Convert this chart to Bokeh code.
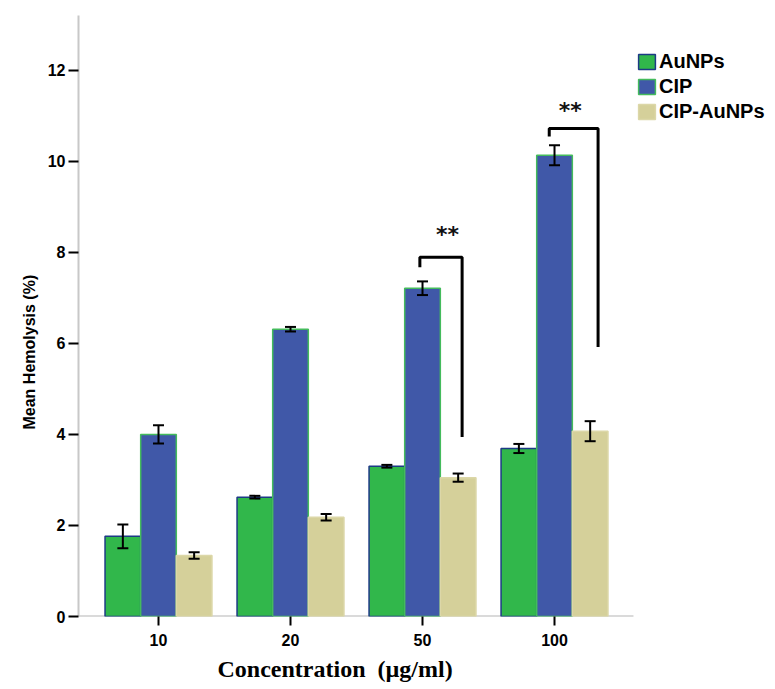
from bokeh.plotting import figure
from bokeh.models import (ColumnDataSource, Range1d, FixedTicker, Whisker, TeeHead,
                          Legend, LegendItem, Title)
from bokeh.core.properties import value
from bokeh.embed import file_html
from bokeh.resources import INLINE

# ---- data ----
concentrations = ["10", "20", "50", "100"]
series_names = ["AuNPs", "CIP", "CIP-AuNPs"]
aunps = [1.76, 2.62, 3.30, 3.69]
aunps_err = [0.26, 0.03, 0.03, 0.10]
cip = [4.00, 6.31, 7.21, 10.13]
cip_err = [0.20, 0.05, 0.15, 0.22]
cip_aunps = [1.34, 2.18, 3.05, 4.07]
cip_aunps_err = [0.07, 0.07, 0.09, 0.22]

# significance brackets (group index 1-based, offsets within group)
bracket_group = [3, 4]
bracket_left_off = [-0.02, -0.04]
bracket_right_off = [0.30, 0.33]
bracket_top = [7.89, 10.72]
bracket_left_bottom = [7.67, 10.54]
bracket_right_bottom = [3.94, 5.92]
star_off = [0.19, 0.12]
star_y = [8.40, 11.12]
star_text = ["**", "**"]

colors = ["#31b74b", "#4058a8", "#d5d09a"]
outlines = ["#1d3a85", "#44bb5c", "#dcd7a8"]
bar_w = 0.27
offsets = [-bar_w, 0.0, bar_w]
axis_x_start, axis_x_end = 0.394, 4.598

p = figure(frame_width=690, frame_height=601,
           min_border_left=78, min_border_right=0, min_border_top=15, min_border_bottom=60,
           x_range=Range1d(axis_x_start, 5.621), y_range=Range1d(0, 13.2),
           output_backend="svg", toolbar_location=None)
p.outline_line_color = None
p.xgrid.grid_line_color = None
p.ygrid.grid_line_color = None
p.background_fill_color = "white"

# baseline (x axis line only spans the bar area)
p.segment(x0=[axis_x_start], y0=[0], x1=[axis_x_end], y1=[0],
          line_color="#b5b5b5", line_width=2)

groups = list(range(1, len(concentrations) + 1))
vals = [aunps, cip, cip_aunps]
errs = [aunps_err, cip_err, cip_aunps_err]
renderers = []
for i, (v, e) in enumerate(zip(vals, errs)):
    xs = [g + offsets[i] for g in groups]
    src = ColumnDataSource(dict(x=xs, top=v,
                                upper=[a + b for a, b in zip(v, e)],
                                lower=[a - b for a, b in zip(v, e)]))
    r = p.vbar(x="x", top="top", width=bar_w, bottom=0, source=src,
               fill_color=colors[i], line_color=outlines[i], line_width=1.5)
    renderers.append(r)
    w = Whisker(base="x", upper="upper", lower="lower", source=src,
                line_color="black", line_width=2, level="overlay",
                upper_head=TeeHead(size=11, line_color="black", line_width=2),
                lower_head=TeeHead(size=11, line_color="black", line_width=2))
    p.add_layout(w)

# brackets
bx, by = [], []
for k in range(len(bracket_group)):
    g = bracket_group[k]
    xl = g + bracket_left_off[k]
    xr = g + bracket_right_off[k]
    bx.append([xl, xl, xr, xr])
    by.append([bracket_left_bottom[k], bracket_top[k], bracket_top[k], bracket_right_bottom[k]])
p.multi_line(xs=bx, ys=by, line_color="black", line_width=3)
p.text(x=[g + o for g, o in zip(bracket_group, star_off)], y=star_y, text=star_text,
       text_font=value("DejaVu Sans"), text_font_style="bold", text_font_size="22px",
       text_align="center", text_baseline="middle", text_color="#111111")

# axes
p.xaxis.ticker = FixedTicker(ticks=groups)
p.xaxis.major_label_overrides = {g: c for g, c in zip(groups, concentrations)}
p.xaxis.axis_line_color = None
p.xaxis.major_tick_line_color = "black"
p.xaxis.major_tick_line_width = 2
p.xaxis.major_tick_out = 9
p.xaxis.major_tick_in = 0
p.xaxis.minor_tick_line_color = None
p.xaxis.major_label_standoff = 8
p.xaxis.major_label_text_font = "Liberation Sans"
p.xaxis.major_label_text_font_style = "bold"
p.xaxis.major_label_text_font_size = "16px"
p.xaxis.major_label_text_color = "black"

p.yaxis.ticker = FixedTicker(ticks=[0, 2, 4, 6, 8, 10, 12])
p.yaxis.axis_line_color = "#c8c8c8"
p.yaxis.axis_line_width = 2
p.yaxis.major_tick_line_color = "black"
p.yaxis.major_tick_line_width = 2
p.yaxis.major_tick_out = 10
p.yaxis.major_tick_in = 0
p.yaxis.minor_tick_line_color = None
p.yaxis.major_label_standoff = 3
p.yaxis.major_label_text_font = "Liberation Sans"
p.yaxis.major_label_text_font_style = "bold"
p.yaxis.major_label_text_font_size = "16px"
p.yaxis.major_label_text_color = "black"

ytitle = Title(text="Mean Hemolysis (%)", align="left", offset=187,
               text_font="Liberation Sans", text_font_style="bold",
               text_font_size="16px", text_color="black", standoff=14)
p.add_layout(ytitle, "left")

xtitle = Title(text="Concentration \u00a0(\u00b5g/ml)", align="left", offset=139,
               text_font="Liberation Serif", text_font_style="bold",
               text_font_size="24px", text_color="black", standoff=11)
p.add_layout(xtitle, "below")

legend = Legend(items=[LegendItem(label=n, renderers=[r]) for n, r in zip(series_names, renderers)],
                location=(558, 493), glyph_width=21, glyph_height=19, spacing=2,
                padding=0, margin=0, label_standoff=2,
                label_text_font="Liberation Sans", label_text_font_style="bold",
                label_text_font_size="20px", label_text_color="black",
                border_line_color=None, background_fill_alpha=0)
p.add_layout(legend)

open("out.html", "w").write(file_html(p, INLINE))
